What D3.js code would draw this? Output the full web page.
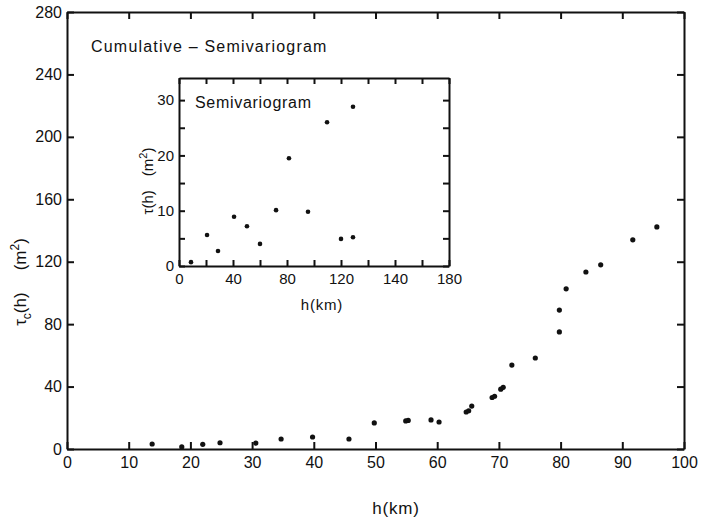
<!DOCTYPE html>
<html>
<head>
<meta charset="utf-8">
<script src="https://cdn.jsdelivr.net/npm/d3@7"></script>
<style>
  body { margin: 0; background: #fff; }
  text { font-family: 'Liberation Sans', Arial, sans-serif; fill: #111; }
  .axis path, .axis line { stroke: #111; stroke-width: 2; }
  .axis text { font-family: 'Liberation Sans', Arial, sans-serif; fill: #111; }
</style>
</head>
<body>
<script>
// cumulative semivariogram, main plot
var cumH = [13.8, 18.6, 22, 24.8, 30.6, 34.7, 39.8, 45.7, 49.8, 54.9, 55.3, 59, 60.3,
            64.7, 65.1, 65.6, 68.9, 69.3, 70.3, 70.7, 72.1, 75.9, 79.8, 79.8, 80.9,
            84.1, 86.5, 91.7, 95.6];
var cumGamma = [3.2, 1.3, 3, 4, 3.8, 6.4, 7.7, 6.4, 16.7, 18, 18.3, 18.6, 17.3,
                23.7, 24.5, 27.5, 33, 33.8, 38.3, 39.5, 53.8, 58.3, 75, 89, 102.6,
                113.4, 118, 134, 142.3];

// semivariogram, inset
var semiH = [8, 18.7, 26, 36.7, 45.3, 54, 64.7, 73.3, 86, 98.7, 108, 116, 116];
var semiGamma = [0.7, 5.6, 2.7, 8.9, 7.2, 4.0, 10.1, 19.5, 9.8, 26.0, 4.9, 5.2, 28.8];

// tick labels
var mainXTicks = [0, 10, 20, 30, 40, 50, 60, 70, 80, 90, 100];
var mainYTicks = [0, 40, 80, 120, 160, 200, 240, 280];
var insetXTicks = [0, 18, 36, 54, 72, 90, 108, 126, 144, 162, 180];
var insetXLabels = ['0', '40', '80', '120', '140', '180'];
var insetYTicks = [0, 5, 10, 15, 20, 25, 30];
var insetYLabels = [0, 10, 20, 30];

var svg = d3.select('body').append('svg')
    .attr('width', 703)
    .attr('height', 521);

var x = d3.scaleLinear().domain([0, 100]).range([67, 684]);
var y = d3.scaleLinear().domain([0, 280]).range([449, 12]);

svg.append('g').attr('class', 'axis')
    .attr('transform', 'translate(0,449)')
    .call(d3.axisBottom(x).tickValues(mainXTicks).tickSize(-7).tickPadding(8).tickSizeOuter(0))
    .selectAll('text').style('font-size', '16px');
svg.append('g').attr('class', 'axis')
    .attr('transform', 'translate(0,12)')
    .call(d3.axisTop(x).tickValues(mainXTicks).tickSize(-7).tickSizeOuter(0).tickFormat(''));
svg.append('g').attr('class', 'axis')
    .attr('transform', 'translate(67,0)')
    .call(d3.axisLeft(y).tickValues(mainYTicks).tickSize(-7).tickPadding(5).tickSizeOuter(0))
    .selectAll('text').style('font-size', '16px');
svg.append('g').attr('class', 'axis')
    .attr('transform', 'translate(684,0)')
    .call(d3.axisRight(y).tickValues(mainYTicks).tickSize(-7).tickSizeOuter(0).tickFormat(''));

svg.selectAll('circle.cum').data(cumH).enter().append('circle')
    .attr('class', 'cum')
    .attr('cx', function(d) { return x(d); })
    .attr('cy', function(d, i) { return y(cumGamma[i]); })
    .attr('r', 2.6)
    .attr('fill', '#111');

svg.append('text')
    .attr('x', 91).attr('y', 52)
    .style('font-size', '16px').style('letter-spacing', '1.2px')
    .text('Cumulative – Semivariogram');

svg.append('text')
    .attr('x', 396).attr('y', 514)
    .attr('text-anchor', 'middle')
    .style('font-size', '17px').style('letter-spacing', '0.8px')
    .text('h(km)');

var yl = svg.append('text')
    .attr('transform', 'translate(26,282) rotate(-90)')
    .attr('text-anchor', 'middle')
    .style('font-size', '17px');
yl.append('tspan').text('τ');
yl.append('tspan').attr('dy', 5).style('font-size', '12px').text('c');
yl.append('tspan').attr('dy', -5).text('(h)');
yl.append('tspan').attr('dx', 22).text('(m');
yl.append('tspan').attr('dy', -7).style('font-size', '12px').text('2');
yl.append('tspan').attr('dy', 7).text(')');

// inset
var ix = d3.scaleLinear().domain([0, 180]).range([179, 449]);
var iy = d3.scaleLinear().domain([0, 34]).range([266, 78]);

var inset = svg.append('g');
inset.append('rect')
    .attr('x', 179).attr('y', 78)
    .attr('width', 270).attr('height', 188)
    .attr('fill', '#fff');

inset.append('g').attr('class', 'axis')
    .attr('transform', 'translate(0,266)')
    .call(d3.axisBottom(ix).tickValues(insetXTicks).tickSize(-6).tickPadding(7).tickSizeOuter(0)
        .tickFormat(function(d, i) { return i % 2 === 0 ? insetXLabels[i / 2] : ''; }))
    .selectAll('text').style('font-size', '15px');
inset.append('g').attr('class', 'axis')
    .attr('transform', 'translate(0,78)')
    .call(d3.axisTop(ix).tickValues(insetXTicks).tickSize(-6).tickSizeOuter(0).tickFormat(''));
inset.append('g').attr('class', 'axis')
    .attr('transform', 'translate(179,0)')
    .call(d3.axisLeft(iy).tickValues(insetYTicks).tickSize(-6).tickPadding(5).tickSizeOuter(0)
        .tickFormat(function(d) { return insetYLabels.indexOf(d) >= 0 ? d : ''; }))
    .selectAll('text').style('font-size', '15px');
inset.append('g').attr('class', 'axis')
    .attr('transform', 'translate(449,0)')
    .call(d3.axisRight(iy).tickValues(insetYTicks).tickSize(-6).tickSizeOuter(0).tickFormat(''));

inset.selectAll('circle.semi').data(semiH).enter().append('circle')
    .attr('class', 'semi')
    .attr('cx', function(d) { return ix(d); })
    .attr('cy', function(d, i) { return iy(semiGamma[i]); })
    .attr('r', 2.3)
    .attr('fill', '#111');

inset.append('text')
    .attr('x', 195).attr('y', 108)
    .style('font-size', '16px').style('letter-spacing', '0.7px')
    .text('Semivariogram');

inset.append('text')
    .attr('x', 322).attr('y', 310)
    .attr('text-anchor', 'middle')
    .style('font-size', '15px').style('letter-spacing', '0.8px')
    .text('h(km)');

var il = inset.append('text')
    .attr('transform', 'translate(153,181) rotate(-90)')
    .attr('text-anchor', 'middle')
    .style('font-size', '15px');
il.append('tspan').text('τ(h)');
il.append('tspan').attr('dx', 14).text('(m');
il.append('tspan').attr('dy', -6).style('font-size', '11px').text('2');
il.append('tspan').attr('dy', 6).text(')');
</script>
</body>
</html>
